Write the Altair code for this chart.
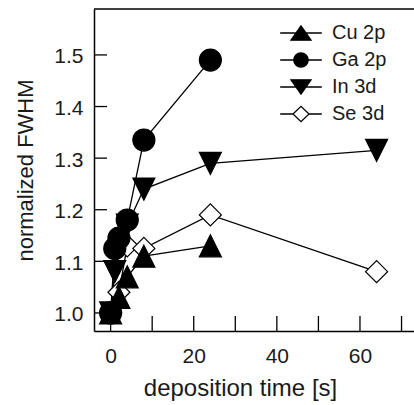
import altair as alt
import pandas as pd

# Peak widths (normalized FWHM) versus deposition time
series = ["Cu 2p", "Ga 2p", "In 3d", "Se 3d"]

cu_time = [0, 2, 4, 8, 24]
cu_fwhm = [1.00, 1.03, 1.07, 1.11, 1.13]

ga_time = [0, 1, 2, 4, 8, 24]
ga_fwhm = [1.00, 1.125, 1.145, 1.18, 1.335, 1.49]

in_time = [0, 1, 4, 8, 24, 64]
in_fwhm = [1.00, 1.08, 1.17, 1.24, 1.29, 1.315]

se_time = [0, 2, 4, 8, 24, 64]
se_fwhm = [1.00, 1.04, 1.13, 1.125, 1.19, 1.08]

x_ticks = [0, 10, 20, 30, 40, 50, 60, 70]
x_labels = [0, 20, 40, 60]
y_ticks = [1.0, 1.1, 1.2, 1.3, 1.4, 1.5]

# drawing order: open diamonds at the bottom, filled markers above
draw_rank = {"Se 3d": 0, "In 3d": 1, "Cu 2p": 2, "Ga 2p": 3}

W, H = 320, 322
FONT = "Liberation Sans"
INK = "#1a1a1a"

rows = []
for name, ts, vs in zip(series, [cu_time, ga_time, in_time, se_time],
                        [cu_fwhm, ga_fwhm, in_fwhm, se_fwhm]):
    for t, v in zip(ts, vs):
        rows.append({"series": name, "time": t, "fwhm": v, "rank": draw_rank[name]})
df = pd.DataFrame(rows)

xscale = alt.Scale(domain=[-4, 73], nice=False, zero=False)
yscale = alt.Scale(domain=[0.965, 1.589], nice=False, zero=False)

# marker shapes in the plot
marker_shapes = ["M0,-1L1,1L-1,1Z", "circle", "M-1,-1L1,-1L0,1Z", "diamond"]
marker_fill = ["black", "black", "black", "white"]

# legend symbols: marker with a short line segment through it
legend_shapes = [
    "M-2.08,0L2.08,0M0,-0.72L1,0.72L-1,0.72Z",
    "M-2.08,0L2.08,0M0.72,0A0.72,0.72,0,1,1,-0.72,0A0.72,0.72,0,1,1,0.72,0Z",
    "M-2.08,0L2.08,0M-1,-0.72L1,-0.72L0,0.72Z",
    "M-2.08,0L-0.8,0M0.8,0L2.08,0M-0.8,0L0,-0.76L0.8,0L0,0.76Z",
]

legend_style = dict(
    title=None, orient="none", legendX=196, legendY=13,
    symbolSize=400, symbolStrokeColor="black", symbolStrokeWidth=1.3,
    symbolOpacity=1,
    labelFont=FONT, labelFontSize=20, labelColor=INK,
    labelOffset=20, rowPadding=6, padding=0,
)

base = alt.Chart(df)

x_enc = alt.X("time:Q", scale=xscale,
              axis=alt.Axis(values=x_labels, ticks=False, tickSize=0, grid=False,
                            domainColor="black", domainWidth=1.5,
                            labelFont=FONT, labelFontSize=21, labelColor=INK,
                            labelPadding=14,
                            title="deposition time [s]", titleFont=FONT,
                            titleFontSize=24, titleFontWeight="normal",
                            titleColor=INK, titlePadding=10, titleX=146))
y_enc = alt.Y("fwhm:Q", scale=yscale,
              axis=alt.Axis(values=y_ticks, format=".1f", ticks=False, tickSize=0,
                            grid=False, domainColor="black", domainWidth=1.5,
                            labelFont=FONT, labelFontSize=21, labelColor=INK,
                            labelPadding=11, labelOffset=2,
                            title="normalized FWHM", titleFont=FONT,
                            titleFontSize=22, titleFontWeight="normal",
                            titleColor=INK, titlePadding=16))

lines = base.mark_line(color="black", strokeWidth=1.3).encode(
    x=x_enc, y=y_enc, detail="series:N", order="time:Q"
)

points = base.mark_point(size=484, strokeWidth=1.2, stroke="black", opacity=1).encode(
    x="time:Q", y="fwhm:Q",
    shape=alt.Shape("series:N", scale=alt.Scale(domain=series, range=marker_shapes),
                    legend=None),
    fill=alt.Fill("series:N", scale=alt.Scale(domain=series, range=marker_fill),
                  legend=None),
    order=alt.Order("rank:Q"),
)

legend_layer = base.transform_filter("false").mark_point(
    size=484, strokeWidth=1.2, opacity=1
).encode(
    x="time:Q", y="fwhm:Q",
    shape=alt.Shape("series:N", scale=alt.Scale(domain=series, range=legend_shapes),
                    legend=alt.Legend(**legend_style)),
    fill=alt.Fill("series:N", scale=alt.Scale(domain=series, range=marker_fill),
                  legend=alt.Legend(**legend_style)),
    stroke=alt.Stroke("series:N",
                      scale=alt.Scale(domain=series, range=["black"] * 4),
                      legend=alt.Legend(**legend_style)),
)

# inward tick marks on the bottom and left axes
xt = alt.Chart(pd.DataFrame({"t": x_ticks})).mark_rule(color="black", strokeWidth=1.3).encode(
    x=alt.X("t:Q", scale=xscale), y=alt.value(H), y2=alt.value(H - 15)
)
yt = alt.Chart(pd.DataFrame({"v": y_ticks})).mark_rule(color="black", strokeWidth=1.3).encode(
    y=alt.Y("v:Q", scale=yscale), x=alt.value(0), x2=alt.value(13)
)
top_line = alt.Chart(pd.DataFrame({"t": [0]})).mark_rule(color="black", strokeWidth=1.5).encode(
    x=alt.value(0), x2=alt.value(W), y=alt.value(0)
)

chart = alt.layer(lines, points, legend_layer, xt, yt, top_line).resolve_scale(
    shape="independent", fill="independent", stroke="independent"
).properties(
    width=W, height=H,
    autosize=alt.AutoSizeParams(type="none"),
    padding={"left": 94, "top": 9, "right": 0, "bottom": 74},
    background="white",
).configure_view(stroke=None)

chart.save("out.html", embed_options={"renderer": "svg", "actions": False})
